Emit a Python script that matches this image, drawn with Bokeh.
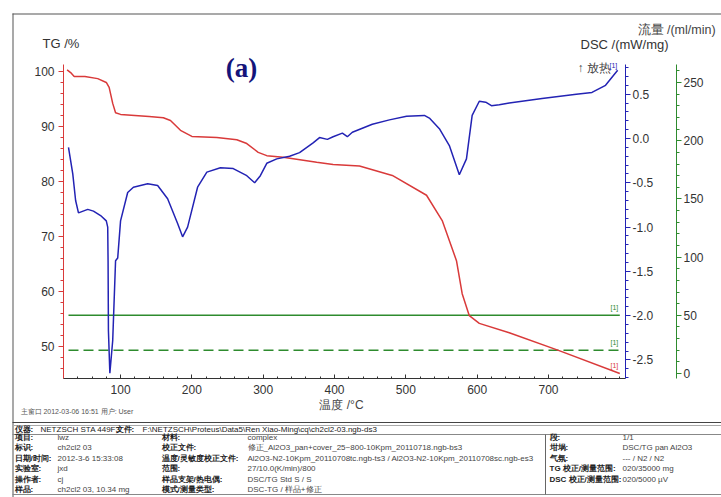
from bokeh.plotting import figure
from bokeh.models import Range1d, LinearAxis, FixedTicker, Label, BoxAnnotation
from bokeh.embed import file_html
from bokeh.resources import INLINE

# ---------------- data ----------------
temp_tg = [25, 30, 35, 50, 68, 80, 84, 89, 93, 100, 140, 160, 170, 184, 200, 235, 263, 277,
           293, 305, 328, 375, 398, 435, 481, 529, 551, 571, 579, 589, 603, 645, 714, 800]
tg = [100.3, 99.8, 99.1, 99.1, 98.7, 98.0, 97.1, 94.2, 92.5, 92.2, 91.8, 91.6, 91.1, 89.3, 88.2,
      88.0, 87.6, 86.9, 85.3, 84.7, 84.4, 83.5, 83.1, 82.8, 81.1, 77.5, 72.9, 65.6, 59.6, 55.6,
      54.2, 52.5, 49.3, 45.1]

temp_dsc = [27, 33, 37, 41, 54, 62, 72, 80, 82, 82.5, 83, 85, 89, 93, 96, 100, 110, 118, 138,
            152, 166, 180, 187, 194, 208, 221, 240, 258, 277, 288, 296, 305, 319, 337, 351, 370,
            379, 390, 398, 411, 418, 425, 453, 477, 501, 526, 533, 547, 561, 575, 585, 593, 603,
            612, 620, 631, 645, 691, 739, 761, 780, 797]
dsc = [-0.10, -0.40, -0.70, -0.84, -0.80, -0.82, -0.87, -0.93, -1.00, -1.38, -2.17, -2.65, -2.28,
       -1.38, -1.35, -0.93, -0.61, -0.55, -0.51, -0.53, -0.68, -0.96, -1.11, -1.00, -0.55, -0.38,
       -0.33, -0.34, -0.42, -0.50, -0.42, -0.28, -0.23, -0.20, -0.16, -0.05, 0.01, -0.01, 0.02,
       0.06, 0.02, 0.07, 0.16, 0.21, 0.25, 0.26, 0.23, 0.11, -0.08, -0.41, -0.23, 0.26, 0.42,
       0.41, 0.37, 0.38, 0.40, 0.45, 0.50, 0.52, 0.60, 0.77]

flow_temp = [27, 800]
purge_flow = [50, 50]
protect_flow = [20, 20]

x_ticks = [100, 200, 300, 400, 500, 600, 700]
x_minor = list(range(20, 801, 20))
tg_ticks = [50, 60, 70, 80, 90, 100]
tg_minor = list(range(46, 101, 2))
dsc_ticks = [-2.5, -2.0, -1.5, -1.0, -0.5, 0.0, 0.5]
dsc_labels = ["-2.5", "-2.0", "-1.5", "-1.0", "-0.5", "0.0", "0.5"]
dsc_minor = [round(-2.7 + 0.1 * i, 1) for i in range(36)]
flow_ticks = [0, 50, 100, 150, 200, 250]
flow_minor = list(range(0, 261, 10))

header_texts = ["仪器:", "NETZSCH STA 449F3", "文件:",
                "F:\\NETZSCH\\Proteus\\Data5\\Ren Xiao-Ming\\cq\\ch2cl2-03.ngb-ds3"]
col1_labels = ["项目:", "标识:", "日期/时间:", "实验室:", "操作者:", "样品:"]
col1_values = ["lwz", "ch2cl2 03", "2012-3-6 15:33:08", "jxd", "cj", "ch2cl2 03, 10.34 mg"]
col2_labels = ["材料:", "校正文件:", "温度/灵敏度校正文件:", "范围:", "样品支架/热电偶:", "模式/测量类型:"]
col2_values = ["complex", "修正_Al2O3_pan+cover_25~800-10Kpm_20110718.ngb-bs3",
               "Al2O3-N2-10Kpm_20110708tc.ngb-ts3 / Al2O3-N2-10Kpm_20110708sc.ngb-es3",
               "27/10.0(K/min)/800", "DSC/TG Std S / S", "DSC-TG / 样品+修正"]
col3_labels = ["段:", "坩埚:", "气氛:", "TG 校正/测量范围:", "DSC 校正/测量范围:"]
col3_values = ["1/1", "DSC/TG pan Al2O3", "--- / N2 / N2", "020/35000 mg", "020/5000 µV"]
footer_note = "主窗口   2012-03-06 16:51    用户: User"

# ---------------- styles / geometry ----------------
RED = "#d93a3a"
BLUE = "#2323b4"
GREEN = "#2e8b2e"
TXT = "#333333"
SANS = "Liberation Sans"

W, H = 721, 497
CL, CR, CT, CB = 63, 625, 64, 378          # chart box (pixels)
X0, X1 = 20, 808
TG0, TG1 = 44.18, 101.27
DSC0, DSC1 = -2.709, 0.835
FL0, FL1 = -4.3, 265.5

kx = (CR - CL) / (X1 - X0)
xs, xe = X0 - CL / kx, X1 + (W - CR) / kx


def yrange(lo, hi):
    k = (CB - CT) / (hi - lo)
    return lo - (H - CB) / k, hi + CT / k, k


tg_b, tg_t, ky = yrange(TG0, TG1)
dsc_b, dsc_t, _ = yrange(DSC0, DSC1)
fl_b, fl_t, _ = yrange(FL0, FL1)


def dx(px):
    return xs + px / kx


def dy(py):
    return tg_t - py / ky


p = figure(width=W, height=H, x_range=Range1d(xs, xe), y_range=Range1d(tg_b, tg_t),
           output_backend="svg", toolbar_location=None, title=None,
           x_axis_location=None, y_axis_location=None, min_border=0)
p.outline_line_color = None
p.grid.visible = False
p.background_fill_color = "white"
p.border_fill_color = "white"
p.extra_y_ranges = {"dsc": Range1d(dsc_b, dsc_t), "flow": Range1d(fl_b, fl_t)}


def style_axis(ax, color, tick_in, tick_out, minor_in, minor_out, standoff, label_color=TXT):
    ax.axis_line_color = color
    ax.major_tick_line_color = color
    ax.minor_tick_line_color = color
    ax.major_tick_in, ax.major_tick_out = tick_in, tick_out
    ax.minor_tick_in, ax.minor_tick_out = minor_in, minor_out
    ax.major_label_standoff = standoff
    ax.major_label_text_font = SANS
    ax.major_label_text_font_size = "12px"
    ax.major_label_text_color = label_color


# x axis (temperature)
xa = LinearAxis(fixed_location=TG0, bounds=(X0, X1),
                ticker=FixedTicker(ticks=x_ticks, minor_ticks=x_minor))
style_axis(xa, "#333333", 4, 0, 2, 0, 6)
p.add_layout(xa, "below")

# TG axis (left)
ya = LinearAxis(fixed_location=X0, bounds=(TG0, TG1),
                ticker=FixedTicker(ticks=tg_ticks, minor_ticks=tg_minor))
style_axis(ya, RED, 0, 5, 0, 3, 4)
p.add_layout(ya, "left")

# DSC axis (right)
dax = LinearAxis(y_range_name="dsc", fixed_location=X1, bounds=(DSC0, DSC1),
                 ticker=FixedTicker(ticks=dsc_ticks, minor_ticks=dsc_minor),
                 major_label_overrides=dict(zip(dsc_ticks, dsc_labels)))
style_axis(dax, BLUE, 0, 5, 0, 3, 2)
p.add_layout(dax, "right")

# Flow axis (right, outer)
fax = LinearAxis(y_range_name="flow", fixed_location=dx(676), bounds=(FL0, FL1),
                 ticker=FixedTicker(ticks=flow_ticks, minor_ticks=flow_minor))
style_axis(fax, GREEN, 0, 5, 0, 3, 2)
p.add_layout(fax, "right")

# curves
p.line(flow_temp, purge_flow, y_range_name="flow", line_color=GREEN, line_width=1.4)
p.line(flow_temp, protect_flow, y_range_name="flow", line_color=GREEN, line_width=1.4,
       line_dash="10 5")
p.line(temp_tg, tg, line_color=RED, line_width=1.5)
p.line(temp_dsc, dsc, y_range_name="dsc", line_color=BLUE, line_width=1.5)


def text(px, py, s, size="12px", color=TXT, font=SANS, style="normal", align="left"):
    p.add_layout(Label(x=dx(px), y=dy(py), text=s, text_font=font, text_font_size=size,
                       text_color=color, text_font_style=style, text_align=align,
                       text_baseline="middle"))


def hline(px0, px1, py, color="#555555"):
    p.add_layout(BoxAnnotation(left=dx(px0), right=dx(px1), top=dy(py - 0.5), bottom=dy(py + 0.5),
                               fill_color=color, fill_alpha=1, line_alpha=0))


def vline(px, py0, py1, color="#555555"):
    p.add_layout(BoxAnnotation(left=dx(px - 0.5), right=dx(px + 0.5), top=dy(py0), bottom=dy(py1),
                               fill_color=color, fill_alpha=1, line_alpha=0))


# frame of the whole report
hline(12, 730, 13.5, "#555555")
vline(12.5, 13, 500, "#555555")

# axis titles and annotations
text(42, 43, "TG /%", "13px")
text(580, 44, "DSC /(mW/mg)", "13px")
text(637, 29, "流量 /(ml/min)", "12.5px", "#444444")
text(577, 67, "↑ 放热", "12px", "#444444")
text(609, 65, "[1]", "7px", BLUE)
text(241, 67, "(a)", "27px", "#14147a", "Liberation Serif", "bold", "center")
text(341, 404, "温度 /°C", "12px", "#444444", align="center")
text(610, 307, "[1]", "7px", GREEN)
text(610, 342, "[1]", "7px", GREEN)
text(610, 365, "[1]", "7px", RED)

# report footer
text(20, 411, footer_note, "7px", "#555555")
hline(12, 730, 422, "#444444")
hline(12, 730, 425, "#aaaaaa")
hline(12, 730, 434, "#888888")
hline(12, 730, 494, "#888888")
vline(545, 434, 494, "#666666")

hx = [14, 40, 115, 142]
for i, s in enumerate(header_texts):
    text(hx[i], 429, s, "8px", "#222222", style="bold" if i % 2 == 0 else "normal")

row0, step = 437, 10.4
for i, s in enumerate(col1_labels):
    text(14, row0 + i * step, s, "8px", "#222222", style="bold")
for i, s in enumerate(col1_values):
    text(57, row0 + i * step, s, "8px", "#444444")
for i, s in enumerate(col2_labels):
    text(161, row0 + i * step, s, "8px", "#222222", style="bold")
for i, s in enumerate(col2_values):
    text(247, row0 + i * step, s, "8px", "#444444")
for i, s in enumerate(col3_labels):
    text(549, row0 + i * step, s, "8px", "#222222", style="bold")
for i, s in enumerate(col3_values):
    text(622, row0 + i * step, s, "8px", "#444444")

open("out.html", "w").write(file_html(p, INLINE))
